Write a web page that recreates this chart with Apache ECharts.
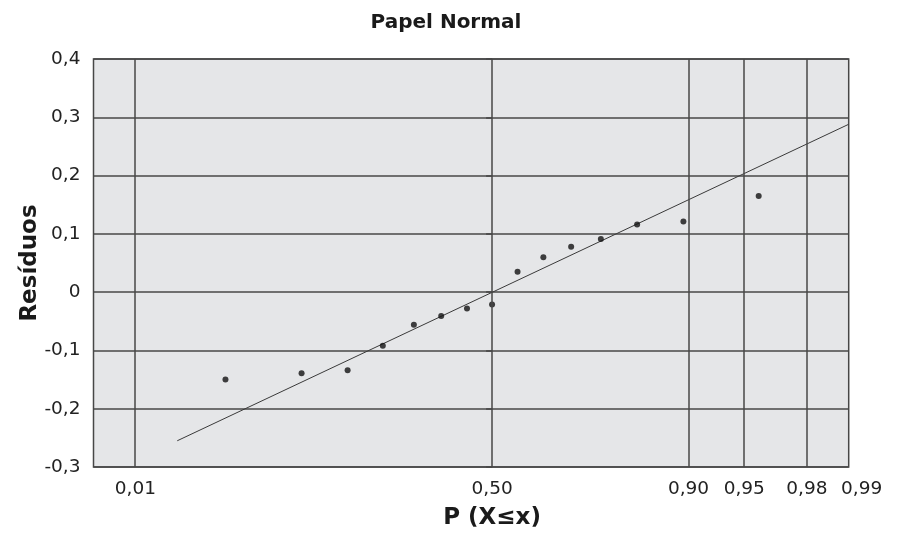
<!DOCTYPE html>
<html>
<head>
<meta charset="utf-8">
<script src="https://cdn.jsdelivr.net/npm/echarts@6/dist/echarts.min.js"></script>
<style>html,body{margin:0;padding:0;background:#fff}#c{width:898px;height:535px}</style>
</head>
<body>
<div id="c"></div>
<script>
// Probability (x) of each plotted residual
const probs = [0.041,0.107,0.173,0.238,0.305,0.370,0.435,0.500,0.566,0.631,0.697,0.761,0.828,0.894,0.959];
// Residual values
const residuals = [-0.150,-0.139,-0.134,-0.092,-0.056,-0.041,-0.028,-0.021,0.035,0.060,0.078,0.091,0.116,0.121,0.165];
// Reference line endpoints
const lineProbs = [0.02, 0.99];
const lineValues = [-0.255, 0.288];
// X tick probabilities and labels
const tickProbs = [0.01, 0.50, 0.90, 0.95, 0.98, 0.99];
const tickLabels = ['0,01', '0,50', '0,90', '0,95', '0,98', '0,99'];

// inverse standard normal CDF (Acklam) — maps probability to normal-paper axis
function qnorm(p){
  const a=[-3.969683028665376e+01,2.209460984245205e+02,-2.759285104469687e+02,1.383577518672690e+02,-3.066479806614716e+01,2.506628277459239e+00];
  const b=[-5.447609879822406e+01,1.615858368580409e+02,-1.556989798598866e+02,6.680131188771972e+01,-1.328068155288572e+01];
  const c=[-7.784894002430293e-03,-3.223964580411365e-01,-2.400758277161838e+00,-2.549732539343734e+00,4.374664141464968e+00,2.938163982698783e+00];
  const d=[7.784695709041462e-03,3.224671290700398e-01,2.445134137142996e+00,3.754408661907416e+00];
  const pl=0.02425, ph=1-pl;
  let q,r;
  if(p<pl){q=Math.sqrt(-2*Math.log(p));return (((((c[0]*q+c[1])*q+c[2])*q+c[3])*q+c[4])*q+c[5])/((((d[0]*q+d[1])*q+d[2])*q+d[3])*q+1);}
  if(p<=ph){q=p-0.5;r=q*q;return (((((a[0]*r+a[1])*r+a[2])*r+a[3])*r+a[4])*r+a[5])*q/(((((b[0]*r+b[1])*r+b[2])*r+b[3])*r+b[4])*r+1);}
  q=Math.sqrt(-2*Math.log(1-p));return -(((((c[0]*q+c[1])*q+c[2])*q+c[3])*q+c[4])*q+c[5])/((((d[0]*q+d[1])*q+d[2])*q+d[3])*q+1);
}

const tickZ = tickProbs.map(qnorm);
const pts = probs.map((p,i)=>[qnorm(p), residuals[i]]);
const linePts = lineProbs.map((p,i)=>[qnorm(p), lineValues[i]]);
const gridColor = '#474747';
const font = '"DejaVu Sans", sans-serif';

const chart = echarts.init(document.getElementById('c'), null, {renderer:'canvas'});
chart.setOption({
  animation:false,
  backgroundColor:'#fff',
  title:{text:'Papel Normal', left:441, textAlign:'center', top:8,
    textStyle:{fontFamily:font, fontWeight:'bold', fontSize:20, color:'#1a1a1a'}},
  grid:{left:93.5, right:49.3, top:59, bottom:66.3, show:true, backgroundColor:'#e5e6e8',
    borderColor:gridColor, borderWidth:1.5},
  xAxis:{type:'value', min:-2.6, max:qnorm(0.99),
    name:'P (X≤x)', nameLocation:'middle', nameGap:40, nameMoveOverlap:false,
    nameTextStyle:{fontFamily:font, fontWeight:'bold', fontSize:23, color:'#1a1a1a', padding:[0,0,0,42]},
    axisLine:{show:false}, axisTick:{show:false}, splitLine:{show:false},
    axisLabel:{customValues:tickZ, margin:13, fontFamily:font, fontSize:18.5, color:'#222',
      formatter:function(v){
        let bi=0,bd=1e9; tickZ.forEach((z,i)=>{const d=Math.abs(z-v); if(d<bd){bd=d;bi=i;}});
        return bi===tickZ.length-1 ? '{r|'+tickLabels[bi]+'}' : tickLabels[bi];
      },
      rich:{r:{fontFamily:font, fontSize:18.5, color:'#222', padding:[0,0,0,26]}}
    }},
  yAxis:{type:'value', min:-0.3, max:0.4, interval:0.1,
    name:'Resíduos', nameLocation:'middle', nameGap:52, nameRotate:90, nameMoveOverlap:false,
    nameTextStyle:{fontFamily:font, fontWeight:'bold', fontSize:23, color:'#1a1a1a'},
    axisLine:{show:false},
    axisTick:{show:true, length:6, lineStyle:{color:gridColor, width:1.5}},
    axisLabel:{margin:13, fontFamily:font, fontSize:18.5, color:'#222',
      formatter:function(v){ const r=Math.round(v*10)/10; return r===0?'0':r.toFixed(1).replace('.',','); }},
    splitLine:{show:true, lineStyle:{color:gridColor, width:1.5}}},
  series:[
    {type:'line', data:linePts, symbol:'none', z:3,
      lineStyle:{color:'#3a3a3a', width:1},
      markLine:{silent:true, symbol:['none','none'], label:{show:false}, animation:false,
        lineStyle:{type:'solid', color:gridColor, width:1.5},
        emphasis:{disabled:true},
        data:tickZ.map(z=>({xAxis:z}))}},
    {type:'scatter', data:pts, symbol:'circle', symbolSize:6, z:4,
      itemStyle:{color:'#111'}}
  ]
});
</script>
</body>
</html>
